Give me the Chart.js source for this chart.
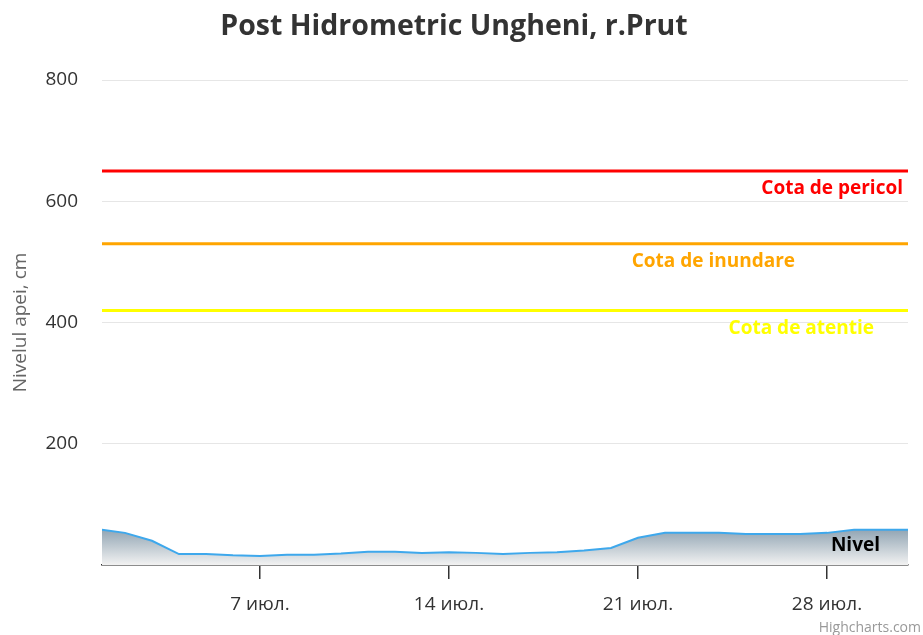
<!DOCTYPE html>
<html>
<head>
    <meta charset="UTF-8">
    <title>Post Hidrometric Ungheni, r.Prut</title>
    <script src="https://cdn.jsdelivr.net/npm/chart.js"></script>
    <style>
        html, body { margin: 0; padding: 0; background: #ffffff; }
    </style>
</head>
<body>
    <canvas id="chart" width="923" height="635"></canvas>
    <script>
        // Date (day of July) and water level, cm
        const days = [1.15, 2, 3, 4, 5, 6, 7, 8, 9, 10, 11, 12, 13, 14, 15, 16, 17, 18, 19, 20, 21, 22, 23, 24, 25, 26, 27, 28, 29, 30, 31];
        const levels = [58, 53, 40, 18, 18, 16, 15, 17, 17, 19, 22, 22, 20, 21, 20, 18, 20, 21, 24, 28, 45, 53, 53, 53, 51, 51, 51, 53, 58, 58, 58];

        const tickDays = [7, 14, 21, 28];
        const tickLabels = ['7 июл.', '14 июл.', '21 июл.', '28 июл.'];
        const yTicks = [0, 200, 400, 600, 800];

        // Praguri (plot lines)
        const thresholdValues = [650, 530, 420];
        const thresholdNames = ['Cota de pericol', 'Cota de inundare', 'Cota de atentie'];
        const thresholdColors = ['#ff0000', '#ffa500', '#ffff00'];
        // distanta marginii drepte a etichetei fata de marginea graficului
        const labelRightGap = [5, 113, 34];

        const FONT = '"Open Sans", sans-serif';

        const plotLines = {
            id: 'plotLines',
            beforeDatasetsDraw(chart) {
                const {ctx, chartArea, scales: {y}} = chart;
                ctx.save();
                thresholdValues.forEach((v, i) => {
                    const py = y.getPixelForValue(v);
                    ctx.strokeStyle = thresholdColors[i];
                    ctx.lineWidth = 3;
                    ctx.beginPath();
                    ctx.moveTo(chartArea.left, py);
                    ctx.lineTo(chartArea.right, py);
                    ctx.stroke();
                });
                ctx.restore();
            },
            afterDatasetsDraw(chart) {
                const {ctx, chartArea, scales: {y}} = chart;
                ctx.save();
                ctx.font = 'bold 19px ' + FONT;
                ctx.textAlign = 'right';
                ctx.textBaseline = 'middle';
                thresholdValues.forEach((v, i) => {
                    const py = y.getPixelForValue(v);
                    ctx.fillStyle = thresholdColors[i];
                    ctx.fillText(thresholdNames[i], chartArea.right - labelRightGap[i], py + 18);
                });
                // eticheta seriei
                ctx.fillStyle = '#000000';
                ctx.fillText('Nivel', chartArea.right - 28, chartArea.bottom - 19);
                // credit
                ctx.font = '14px ' + FONT;
                ctx.fillStyle = '#999999';
                ctx.textBaseline = 'alphabetic';
                ctx.fillText('Highcharts.com', chart.width - 2, chart.height - 3);
                ctx.restore();
            }
        };

        new Chart(document.getElementById('chart'), {
            type: 'line',
            data: {
                datasets: [{
                    label: 'Nivel',
                    data: days.map((d, i) => ({x: d, y: levels[i]})),
                    borderColor: '#3ea8ec',
                    borderWidth: 2,
                    pointRadius: 0,
                    tension: 0,
                    fill: 'origin',
                    backgroundColor: function(context) {
                        const chart = context.chart;
                        const {ctx, chartArea, scales} = chart;
                        if (!chartArea || !scales.y) return 'rgba(0,0,0,0)';
                        const top = scales.y.getPixelForValue(60);
                        const bottom = scales.y.getPixelForValue(0);
                        if (!isFinite(top) || !isFinite(bottom)) return 'rgba(0,0,0,0)';
                        const g = ctx.createLinearGradient(0, top, 0, bottom);
                        g.addColorStop(0, '#8fa3b2');
                        g.addColorStop(1, '#f2f2f2');
                        return g;
                    }
                }]
            },
            options: {
                responsive: false,
                animation: false,
                layout: { padding: { left: 0, right: 15, top: 0, bottom: 0 } },
                plugins: {
                    legend: { display: false },
                    tooltip: { enabled: false },
                    title: {
                        display: true,
                        text: 'Post Hidrometric Ungheni, r.Prut',
                        color: '#333333',
                        font: { family: FONT, size: 28.5, weight: 'bold' },
                        padding: { top: 10, bottom: 35.8 }
                    }
                },
                scales: {
                    x: {
                        type: 'linear',
                        min: days[0],
                        max: days[days.length - 1],
                        afterBuildTicks(scale) {
                            scale.ticks = tickDays.map(v => ({value: v}));
                        },
                        afterFit(scale) { scale.height = 70; },
                        ticks: {
                            autoSkip: false,
                            maxRotation: 0,
                            padding: 14,
                            color: '#333333',
                            font: { family: FONT, size: 19 },
                            callback: function(value) {
                                const i = tickDays.indexOf(value);
                                return i >= 0 ? tickLabels[i] : '';
                            }
                        },
                        grid: {
                            drawOnChartArea: false,
                            drawTicks: true,
                            tickLength: 14,
                            tickColor: '#333333',
                            lineWidth: 1.5
                        },
                        border: { display: true, color: '#333333', width: 1.5 }
                    },
                    y: {
                        min: 0,
                        max: 800,
                        afterBuildTicks(scale) {
                            scale.ticks = yTicks.map(v => ({value: v}));
                        },
                        afterFit(scale) { scale.width = 102; },
                        ticks: {
                            padding: 24,
                            color: '#333333',
                            font: { family: FONT, size: 19 },
                            callback: v => v === 0 ? '' : v
                        },
                        grid: { color: '#e6e6e6', lineWidth: 1, drawTicks: false },
                        border: { display: false },
                        title: {
                            display: true,
                            text: 'Nivelul apei, cm',
                            color: '#666666',
                            font: { family: FONT, size: 19 },
                            padding: { top: 9, bottom: 0 }
                        }
                    }
                }
            },
            plugins: [plotLines]
        });
    </script>
</body>
</html>
